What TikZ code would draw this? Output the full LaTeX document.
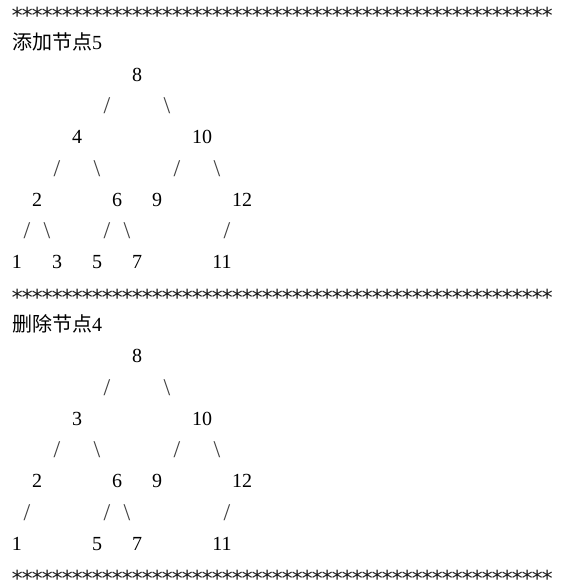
\documentclass[tikz,border=0pt]{standalone}
\usepackage{fontspec}
\setmainfont{Liberation Serif}
\newfontfamily\cjkfont{Noto Sans CJK SC}
\newfontfamily\astfont{DejaVu Sans Mono}
\ExplSyntaxOn
\cs_new:Npn \myastrow {\prg_replicate:nn {54} {\makebox[10pt]{*}}}
\ExplSyntaxOff
\tikzset{
  dig/.style={font=\fontsize{20}{20}\selectfont, inner sep=0pt, anchor=base, text=black},
  sl/.style={font=\fontsize{24}{24}\selectfont, inner sep=0pt, anchor=base, text=black!75, yshift=-1pt},
  astline/.style={font=\astfont\fontsize{22}{22}\selectfont, inner sep=0pt, anchor=base west, text=black!90},
  title/.style={font=\fontsize{20}{20}\selectfont, inner sep=0pt, anchor=base west, text=black}
}
\begin{document}
\begin{tikzpicture}[x=10pt, y=-31.28pt]
\useasboundingbox (0pt,0pt) rectangle (571pt,-585pt);
% asterisk lines
\node[astline] (s1) at ([shift={(12pt,-23.5pt)}]0,0) {\myastrow};
\node[astline] (s2) at ([shift={(12pt,-23.5pt)}]0,9) {\myastrow};
\node[astline] (s3) at ([shift={(12pt,-23.5pt)}]0,18) {\myastrow};
% titles
\node[title] (t1) at ([shift={(12pt,-18.7pt)}]0,1) {{\cjkfont 添加节点}5};
\node[title] (t2) at ([shift={(12pt,-18.7pt)}]0,10) {{\cjkfont 删除节点}4};
\begin{scope}[shift={(17pt,-18.7pt)}]
% first tree
\node[dig] (a8) at (12,2) {8};
\node[sl] (a83) at (9,3) {/};
\node[sl] (a84) at (15,3) {\char`\\};
\node[dig] (a4) at (6,4) {4};
\node[dig] (a10) at (18.5,4) {10};
\node[sl] (a51) at (4,5) {/};
\node[sl] (a52) at (8,5) {\char`\\};
\node[sl] (a53) at (16,5) {/};
\node[sl] (a54) at (20,5) {\char`\\};
\node[dig] (a2) at (2,6) {2};
\node[dig] (a6) at (10,6) {6};
\node[dig] (a9) at (14,6) {9};
\node[dig] (a12) at (22.5,6) {12};
\node[sl] (a71) at (1,7) {/};
\node[sl] (a72) at (3,7) {\char`\\};
\node[sl] (a73) at (9,7) {/};
\node[sl] (a74) at (11,7) {\char`\\};
\node[sl] (a75) at (21,7) {/};
\node[dig] (a1) at (0,8) {1};
\node[dig] (a3) at (4,8) {3};
\node[dig] (a5) at (8,8) {5};
\node[dig] (a7) at (12,8) {7};
\node[dig] (a11) at (20.5,8) {11};
% second tree
\node[dig] (b8) at (12,11) {8};
\node[sl] (b83) at (9,12) {/};
\node[sl] (b84) at (15,12) {\char`\\};
\node[dig] (b3) at (6,13) {3};
\node[dig] (b10) at (18.5,13) {10};
\node[sl] (b51) at (4,14) {/};
\node[sl] (b52) at (8,14) {\char`\\};
\node[sl] (b53) at (16,14) {/};
\node[sl] (b54) at (20,14) {\char`\\};
\node[dig] (b2) at (2,15) {2};
\node[dig] (b6) at (10,15) {6};
\node[dig] (b9) at (14,15) {9};
\node[dig] (b12) at (22.5,15) {12};
\node[sl] (b71) at (1,16) {/};
\node[sl] (b73) at (9,16) {/};
\node[sl] (b74) at (11,16) {\char`\\};
\node[sl] (b75) at (21,16) {/};
\node[dig] (b1) at (0,17) {1};
\node[dig] (b5) at (8,17) {5};
\node[dig] (b7) at (12,17) {7};
\node[dig] (b11) at (20.5,17) {11};
\end{scope}
\end{tikzpicture}
\end{document}
